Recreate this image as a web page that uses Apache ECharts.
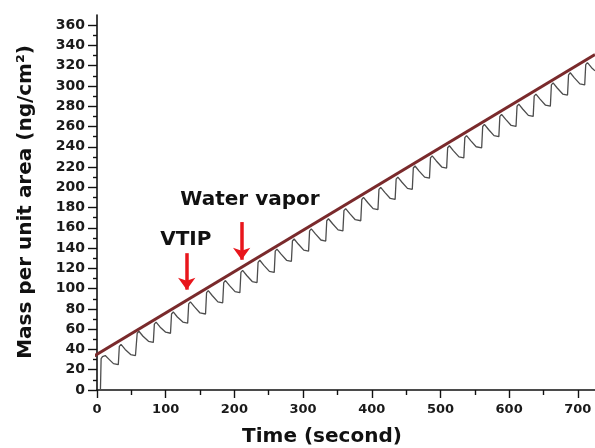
<!DOCTYPE html>
<html>
<head>
<meta charset="utf-8">
<title>Mass per unit area</title>
<script src="https://cdn.jsdelivr.net/npm/echarts@6/dist/echarts.min.js"></script>
<style>
  html, body { margin: 0; padding: 0; background: #fff; }
  #main { width: 595px; height: 448px; }
</style>
</head>
<body>
<div id="main"></div>
<script>
// tick labels
var xTicks = [0, 100, 200, 300, 400, 500, 600, 700];
var yTicks = [0, 20, 40, 60, 80, 100, 120, 140, 160, 180, 200, 220, 240, 260, 280, 300, 320, 340, 360];

// fitted line (time s, mass ng/cm2)
var fitTime = [-13, 725];
var fitMass = [29.9, 331];

// QCM trace, one row per dosing cycle
var tracePoints = [
  [5, 0], [6, 31], [8, 33], [12, 34], [18, 30], [24, 26], [31, 25],
  [32, 25], [32.5, 43], [35, 45], [41, 40], [49, 35], [56, 34],
  [58, 34], [58.5, 56], [61, 58], [67, 53], [75, 48], [82, 47],
  [83, 47], [83.5, 65], [86, 67], [92, 62], [100, 57], [107, 56],
  [108, 56], [108.5, 75], [111, 77], [117, 72], [125, 67], [132, 66],
  [133, 66], [133.5, 85], [136, 87], [142, 82], [150, 76], [158, 75],
  [159, 75], [159.5, 96], [162, 98], [168, 93], [176, 87], [183, 86],
  [184, 86], [184.5, 106], [187, 108], [193, 103], [201, 97], [208, 96],
  [209, 96], [209.5, 116], [212, 118], [218, 113], [226, 107], [233, 106],
  [234, 106], [234.5, 126], [237, 128], [243, 123], [251, 117], [258, 116],
  [259, 116], [259.5, 137], [262, 139], [268, 134], [276, 128], [283, 127],
  [284, 127], [284.5, 147], [287, 149], [293, 144], [301, 138], [308, 137],
  [309, 137], [309.5, 157], [312, 159], [318, 154], [326, 148], [333, 147],
  [334, 147], [334.5, 167], [337, 169], [343, 164], [351, 158], [358, 157],
  [359, 157], [359.5, 177], [362, 179], [368, 174], [376, 168], [384, 167],
  [385, 167], [385.5, 188], [388, 190], [394, 185], [402, 179], [409, 178],
  [410, 178], [410.5, 198], [413, 200], [419, 195], [427, 189], [434, 188],
  [435, 188], [435.5, 208], [438, 210], [444, 205], [452, 199], [459, 198],
  [460, 198], [460.5, 219], [463, 221], [469, 216], [477, 210], [484, 209],
  [485, 209], [485.5, 229], [488, 231], [494, 226], [502, 220], [509, 219],
  [510, 219], [510.5, 239], [513, 241], [519, 236], [527, 230], [534, 229],
  [535, 229], [535.5, 249], [538, 251], [544, 246], [552, 240], [560, 239],
  [561, 239], [561.5, 260], [564, 262], [570, 257], [578, 251], [585, 250],
  [586, 250], [586.5, 270], [589, 272], [595, 267], [603, 261], [610, 260],
  [611, 260], [611.5, 280], [614, 282], [620, 277], [628, 271], [635, 270],
  [636, 270], [636.5, 290], [639, 292], [645, 287], [653, 281], [660, 280],
  [661, 280], [661.5, 301], [664, 303], [670, 298], [678, 292], [685, 291],
  [686, 291], [686.5, 311], [689, 313], [695, 308], [703, 302], [710, 301],
  [711, 301], [711.5, 321], [714, 323], [720, 318], [725, 315]
];

// arrows + their labels
var arrowNames = ['VTIP', 'Water vapor'];
var arrowTime = [130.6, 210.6];
var arrowTop = [135, 165.7];
var arrowTip = [99, 128.5];
var noteTime = [129.3, 222.7];
var noteMass = [147.9, 187.4];

var FONT = '"DejaVu Sans", "Liberation Sans", Arial, sans-serif';
var chart = echarts.init(document.getElementById('main'), null, { renderer: 'canvas' });

var fitData = fitTime.map(function (t, i) { return [t, fitMass[i]]; });
var arrowLines = arrowTime.map(function (t, i) {
  return [{ coord: [t, arrowTop[i]] }, { coord: [t, arrowTip[i]] }];
});
var notes = arrowNames.map(function (n, i) {
  return { name: n, coord: [noteTime[i], noteMass[i]] };
});

chart.setOption({
  animation: false,
  backgroundColor: '#fff',
  grid: { left: 97, right: 0, top: 15, bottom: 58, containLabel: false, outerBoundsMode: 'none' },
  xAxis: {
    type: 'value', min: 0, max: 725, interval: 100,
    splitLine: { show: false },
    axisLine: { onZero: false, lineStyle: { color: '#111', width: 1.6 } },
    axisTick: { length: 8, lineStyle: { color: '#111', width: 1.4 }, customValues: xTicks },
    minorTick: { show: true, splitNumber: 2, length: 5, lineStyle: { color: '#111', width: 1.4 } },
    axisLabel: { customValues: xTicks, margin: 13, color: '#1a1a1a', fontWeight: 'bold', fontSize: 13, fontFamily: FONT }
  },
  yAxis: {
    type: 'value', min: 0, max: 370, interval: 20,
    splitLine: { show: false },
    axisLine: { show: true, onZero: false, lineStyle: { color: '#111', width: 1.6 } },
    axisTick: { show: true, length: 9, lineStyle: { color: '#111', width: 1.4 }, customValues: yTicks },
    minorTick: { show: true, splitNumber: 2, length: 4, lineStyle: { color: '#111', width: 1.4 } },
    axisLabel: { customValues: yTicks, margin: 12, color: '#1a1a1a', fontWeight: 'bold', fontSize: 14, fontFamily: FONT }
  },
  graphic: [
    {
      type: 'text', x: 322, y: 437,
      style: { text: 'Time (second)', fill: '#111', font: 'bold 20px ' + FONT,
        textAlign: 'center', textVerticalAlign: 'middle', align: 'center', verticalAlign: 'middle' }
    },
    {
      type: 'text', x: 26, y: 202, rotation: Math.PI / 2,
      style: { text: 'Mass per unit area (ng/cm\u00b2)', fill: '#111', font: 'bold 20px ' + FONT,
        textAlign: 'center', textVerticalAlign: 'middle', align: 'center', verticalAlign: 'middle' }
    }
  ],
  series: [
    {
      name: 'trace', type: 'line', data: tracePoints,
      showSymbol: false, symbol: 'none',
      lineStyle: { color: '#4d4d4d', width: 1.3 },
      z: 2
    },
    {
      name: 'fit', type: 'line', data: fitData, clip: false,
      showSymbol: false, symbol: 'none',
      lineStyle: { color: '#7a2a2c', width: 3 },
      z: 3,
      markLine: {
        silent: true, symbol: ['none', 'arrow'], symbolSize: [13, 12],
        label: { show: false },
        lineStyle: { color: '#e8161c', width: 3.5, type: 'solid' },
        data: arrowLines
      },
      markPoint: {
        silent: true, symbol: 'circle', symbolSize: 1,
        itemStyle: { color: 'rgba(0,0,0,0)' },
        label: {
          show: true, position: 'inside', formatter: '{b}',
          color: '#111', fontWeight: 'bold', fontSize: 20, fontFamily: FONT
        },
        data: notes
      }
    }
  ]
});
</script>
</body>
</html>
